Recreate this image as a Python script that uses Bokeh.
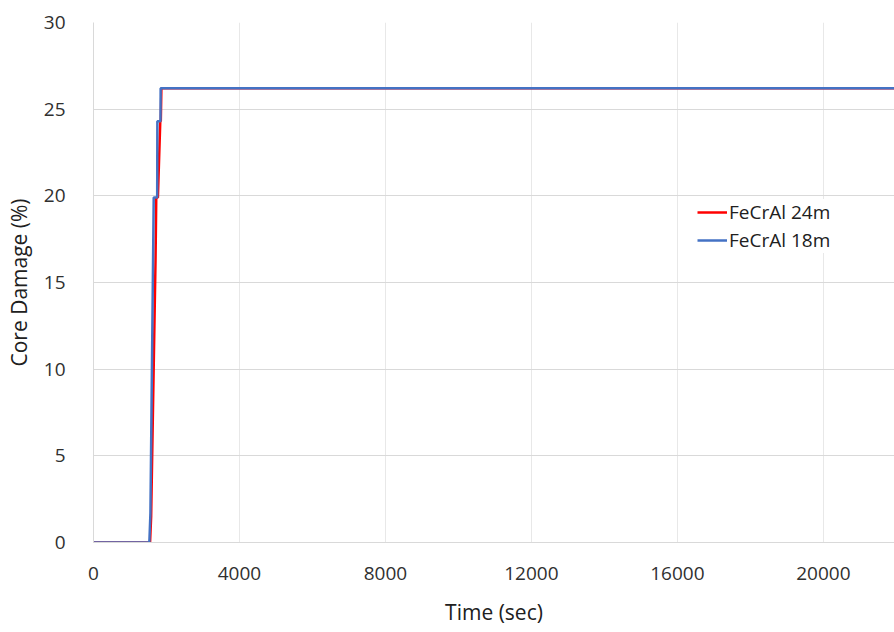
from bokeh.plotting import figure
from bokeh.models import Range1d, FixedTicker, Legend, LegendItem
from bokeh.embed import file_html
from bokeh.resources import INLINE

# Core damage histories for the two FeCrAl cladding cases
time_24m = [0, 1550, 1580, 1700, 1720, 1765, 1830, 1845, 1860, 21950]
damage_24m = [0, 0, 1.5, 16.3, 19.9, 19.9, 24.3, 24.3, 26.2, 26.2]

time_18m = [0, 1530, 1560, 1650, 1745, 1750, 1836, 1840, 21950]
damage_18m = [0, 0, 1.7, 19.9, 19.9, 24.3, 24.3, 26.2, 26.2]

x_ticks = [0, 4000, 8000, 12000, 16000, 20000]
y_ticks = [0, 5, 10, 15, 20, 25, 30]

FONT = "Open Sans"
TEXT = "#303030"

p = figure(width=894, height=632, output_backend="svg", toolbar_location=None,
           x_range=Range1d(0, 21950), y_range=Range1d(0, 30),
           min_border_left=93, min_border_right=0, min_border_top=22, min_border_bottom=90)

p.outline_line_color = None
p.background_fill_color = "white"
p.border_fill_color = "white"

r24 = p.line(time_24m, damage_24m, line_color="#FF0000", line_width=2.5)
r18 = p.line(time_18m, damage_18m, line_color="#4472C4", line_width=2.5)

# axes
p.xaxis.ticker = FixedTicker(ticks=x_ticks)
p.yaxis.ticker = FixedTicker(ticks=y_ticks)
for ax in (p.xaxis[0], p.yaxis[0]):
    ax.major_tick_line_color = None
    ax.minor_tick_line_color = None
    ax.axis_line_color = "#D9D9D9"
    ax.major_label_text_font = FONT
    ax.major_label_text_font_size = "19px"
    ax.major_label_text_color = TEXT
    ax.axis_label_text_font = FONT
    ax.axis_label_text_font_size = "21px"
    ax.axis_label_text_font_style = "normal"
    ax.axis_label_text_color = "#202020"

p.xaxis.axis_label = "Time (sec)"
p.yaxis.axis_label = "Core Damage (%)"
p.xaxis.major_label_standoff = 18
p.xaxis.axis_label_standoff = 15
p.yaxis.major_label_standoff = 22
p.yaxis.axis_label_standoff = 8

p.xgrid.grid_line_color = "#E8E8E8"
p.ygrid.grid_line_color = "#D9D9D9"
p.xgrid.ticker = FixedTicker(ticks=x_ticks)
p.ygrid.ticker = FixedTicker(ticks=y_ticks)

legend = Legend(items=[LegendItem(label="FeCrAl 24m", renderers=[r24]),
                       LegendItem(label="FeCrAl 18m", renderers=[r18])],
                location=(604, 289), orientation="vertical")
legend.label_text_font = FONT
legend.label_text_font_size = "19px"
legend.label_text_color = "#202020"
legend.glyph_width = 30
legend.glyph_height = 24
legend.spacing = 2
legend.padding = 5
legend.margin = 0
legend.label_standoff = 2
legend.border_line_color = None
legend.background_fill_color = "white"
legend.background_fill_alpha = 1.0
p.add_layout(legend, "center")

open("out.html", "w").write(file_html(p, INLINE))
